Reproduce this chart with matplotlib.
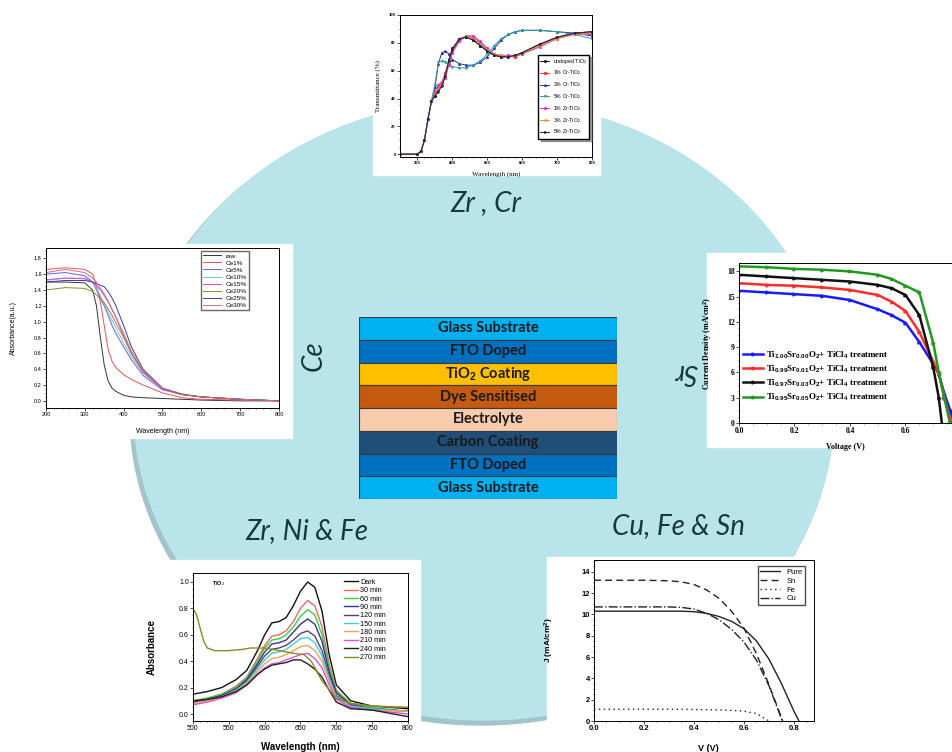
import matplotlib
matplotlib.use("Agg")
import matplotlib.pyplot as plt
from matplotlib.patches import Ellipse, Rectangle

W, H = 953, 752

plt.rcParams['mathtext.fontset'] = 'custom'
plt.rcParams['mathtext.rm'] = 'Liberation Sans'
plt.rcParams['mathtext.it'] = 'Liberation Sans:italic'
plt.rcParams['mathtext.bf'] = 'Liberation Sans:bold'

# central cell stack
layers = ["Glass Substrate", "FTO Doped", r"TiO$_\mathbf{2}$ Coating", "Dye Sensitised",
          "Electrolyte", "Carbon Coating", "FTO Doped", "Glass Substrate"]
layer_colors = ["#00b0f0", "#0070c0", "#ffc000", "#c55a11",
                "#f8cbad", "#1f4e79", "#0070c0", "#00b0f0"]

# Zr, Cr transmittance
wl1 = [250, 300, 310, 320, 330, 340, 350, 360, 370, 380, 390, 400, 420, 440, 460,
       480, 500, 520, 540, 560, 580, 600, 650, 700, 750, 800]
t_undoped = [0, 0, 2, 10, 25, 38, 42, 46, 50, 58, 68, 76, 83, 84, 82, 78, 74, 71, 70, 70, 71, 73, 79, 84, 87, 88]
t_cr1 = [0, 0, 2, 10, 25, 38, 43, 48, 52, 58, 66, 74, 82, 85, 84, 80, 75, 72, 70, 70, 70, 72, 78, 84, 87, 87]
t_cr3 = [0, 0, 2, 10, 25, 38, 48, 65, 73, 74, 72, 68, 65, 64, 64, 66, 70, 76, 82, 86, 88, 89, 89, 88, 87, 85]
t_cr5 = [0, 0, 2, 10, 25, 38, 50, 66, 67, 66, 64, 63, 62, 62, 64, 67, 72, 78, 83, 86, 88, 89, 89, 88, 86, 83]
t_zr1 = [0, 0, 2, 10, 25, 38, 45, 50, 52, 55, 64, 73, 81, 85, 85, 81, 76, 72, 71, 71, 71, 72, 77, 83, 86, 86]
t_zr3 = [0, 0, 2, 10, 25, 38, 43, 47, 50, 56, 66, 75, 83, 85, 83, 79, 75, 72, 71, 70, 71, 72, 78, 83, 86, 87]
t_zr5 = [0, 0, 2, 10, 25, 38, 42, 45, 49, 56, 67, 75, 83, 84, 82, 78, 74, 71, 70, 70, 71, 73, 79, 84, 87, 88]
t_labels = [r"undoped TiO$_2$", r"1% Cr-TiO$_2$", r"3% Cr-TiO$_2$", r"5% Cr-TiO$_2$",
            r"1% Zr-TiO$_2$", r"3% Zr-TiO$_2$", r"5% Zr-TiO$_2$"]
t_colors = ["#111111", "#ff3030", "#2a2aa8", "#2aa0a0", "#e030e0", "#d0a020", "#202050"]

# Ce absorbance
wl2 = [200, 250, 300, 320, 330, 340, 350, 360, 370, 380, 400, 420, 450, 500, 550, 600, 700, 800]
a_raw = [1.50, 1.50, 1.49, 1.40, 1.20, 0.80, 0.45, 0.25, 0.16, 0.12, 0.07, 0.05, 0.04, 0.03, 0.02, 0.01, 0.0, 0.0]
a_ce1 = [1.66, 1.68, 1.66, 1.60, 1.45, 1.25, 0.95, 0.65, 0.50, 0.42, 0.33, 0.27, 0.20, 0.10, 0.04, 0.02, 0.01, 0.0]
a_ce5 = [1.60, 1.62, 1.58, 1.50, 1.40, 1.30, 1.20, 1.08, 0.95, 0.85, 0.68, 0.52, 0.32, 0.14, 0.08, 0.05, 0.02, 0.0]
a_ce10 = [1.52, 1.55, 1.55, 1.50, 1.42, 1.33, 1.22, 1.12, 1.02, 0.92, 0.73, 0.56, 0.35, 0.15, 0.08, 0.05, 0.02, 0.0]
a_ce15 = [1.53, 1.55, 1.54, 1.50, 1.45, 1.40, 1.33, 1.25, 1.15, 1.05, 0.82, 0.60, 0.36, 0.15, 0.08, 0.05, 0.02, 0.0]
a_ce20 = [1.40, 1.43, 1.42, 1.38, 1.34, 1.29, 1.24, 1.16, 1.08, 0.98, 0.80, 0.60, 0.37, 0.16, 0.09, 0.05, 0.02, 0.0]
a_ce25 = [1.50, 1.52, 1.52, 1.50, 1.48, 1.46, 1.44, 1.38, 1.30, 1.20, 0.95, 0.68, 0.40, 0.16, 0.08, 0.05, 0.02, 0.0]
a_ce30 = [1.62, 1.66, 1.62, 1.55, 1.50, 1.42, 1.35, 1.26, 1.16, 1.06, 0.85, 0.63, 0.38, 0.16, 0.08, 0.05, 0.02, 0.0]
ce_labels = ["raw", "Ce1%", "Ce5%", "Ce10%", "Ce15%", "Ce20%", "Ce25%", "Ce30%"]
ce_colors = ["#333333", "#f05050", "#6060f0", "#70c8e0", "#e040e0", "#8a8a30", "#3a3a9a", "#d07080"]

# Sr J-V
v3 = [0, 0.1, 0.2, 0.3, 0.4, 0.5, 0.55, 0.6, 0.65, 0.7, 0.72, 0.74, 0.76, 0.78]
j_sr00 = [15.7, 15.5, 15.3, 15.1, 14.6, 13.5, 12.8, 11.9, 9.6, 7.0, 5.8, 3.5, 1.6, -0.4]
j_sr01 = [16.6, 16.4, 16.3, 16.1, 15.8, 15.2, 14.4, 13.3, 10.8, 7.3, 5.8, 3.0, 0.6, -1.5]
j_sr03 = [17.6, 17.4, 17.2, 17.0, 16.8, 16.4, 16.0, 15.2, 12.8, 6.6, 3.0, -2.5, -5.0, -7.0]
j_sr05 = [18.6, 18.5, 18.3, 18.2, 18.0, 17.6, 17.1, 16.3, 15.5, 9.5, 6.0, 3.0, 0.0, -2.0]
sr_labels = [r"Ti$_{\mathbf{1.00}}$Sr$_{\mathbf{0.00}}$O$_\mathbf{2}$+ TiCl$_\mathbf{4}$ treatment",
             r"Ti$_{\mathbf{0.99}}$Sr$_{\mathbf{0.01}}$O$_\mathbf{2}$+ TiCl$_\mathbf{4}$ treatment",
             r"Ti$_{\mathbf{0.97}}$Sr$_{\mathbf{0.03}}$O$_\mathbf{2}$+ TiCl$_\mathbf{4}$ treatment",
             r"Ti$_{\mathbf{0.95}}$Sr$_{\mathbf{0.05}}$O$_\mathbf{2}$+ TiCl$_\mathbf{4}$ treatment"]
sr_colors = ["#1a1aff", "#ff2a2a", "#111111", "#1f9a1f"]

# Zr, Ni & Fe photodegradation
wl4 = [500, 520, 540, 560, 575, 590, 600, 610, 620, 630, 640, 650, 660, 670, 680, 690, 700, 720, 750, 800]
ab_dark = [0.15, 0.17, 0.20, 0.26, 0.33, 0.48, 0.60, 0.69, 0.70, 0.73, 0.82, 0.93, 1.00, 0.96, 0.78, 0.45, 0.22, 0.10, 0.06, 0.04]
ab_30 = [0.10, 0.12, 0.15, 0.21, 0.28, 0.42, 0.52, 0.59, 0.60, 0.63, 0.70, 0.80, 0.86, 0.82, 0.66, 0.38, 0.18, 0.08, 0.06, 0.05]
ab_60 = [0.10, 0.12, 0.15, 0.20, 0.27, 0.40, 0.50, 0.56, 0.57, 0.60, 0.66, 0.74, 0.79, 0.75, 0.60, 0.35, 0.17, 0.08, 0.05, 0.02]
ab_90 = [0.09, 0.11, 0.14, 0.19, 0.26, 0.38, 0.47, 0.53, 0.54, 0.56, 0.62, 0.68, 0.72, 0.68, 0.55, 0.32, 0.16, 0.07, 0.04, 0.02]
ab_120 = [0.09, 0.11, 0.14, 0.19, 0.25, 0.36, 0.44, 0.49, 0.50, 0.52, 0.56, 0.61, 0.63, 0.59, 0.48, 0.29, 0.14, 0.06, 0.04, 0.02]
ab_150 = [0.08, 0.10, 0.13, 0.18, 0.24, 0.34, 0.41, 0.46, 0.47, 0.49, 0.53, 0.57, 0.58, 0.54, 0.44, 0.27, 0.13, 0.06, 0.04, 0.02]
ab_180 = [0.08, 0.10, 0.13, 0.17, 0.23, 0.32, 0.38, 0.42, 0.43, 0.45, 0.48, 0.51, 0.52, 0.48, 0.40, 0.25, 0.12, 0.05, 0.03, 0.02]
ab_210 = [0.07, 0.09, 0.12, 0.16, 0.22, 0.30, 0.35, 0.38, 0.39, 0.41, 0.43, 0.45, 0.46, 0.42, 0.35, 0.22, 0.11, 0.05, 0.03, 0.0]
ab_240 = [0.10, 0.11, 0.13, 0.17, 0.22, 0.30, 0.34, 0.37, 0.38, 0.39, 0.41, 0.41, 0.38, 0.34, 0.28, 0.18, 0.09, 0.04, 0.03, -0.02]
wl4_270 = [500, 505, 510, 515, 520, 530, 550, 570, 580, 600, 620, 640, 655, 665, 680, 700, 720, 750, 800]
ab_270 = [0.80, 0.75, 0.65, 0.55, 0.50, 0.48, 0.48, 0.49, 0.50, 0.50, 0.48, 0.46, 0.45, 0.40, 0.25, 0.12, 0.08, 0.06, 0.05]
deg_labels = ["Dark", "30 min", "60 min", "90 min", "120 min", "150 min",
              "180 min", "210 min", "240 min", "270 min"]
deg_colors = ["#111111", "#e86a6a", "#33d633", "#33339a", "#5a4070", "#40d0d8",
              "#e8a850", "#e050e0", "#202020", "#8a8a20"]

# Cu, Fe & Sn J-V
v5 = [0, 0.1, 0.2, 0.3, 0.35, 0.4, 0.45, 0.5, 0.55, 0.6, 0.65, 0.7, 0.75, 0.8, 0.82, 0.84]
j_pure = [10.3, 10.3, 10.3, 10.3, 10.3, 10.25, 10.1, 9.8, 9.35, 8.65, 7.5, 5.8, 3.5, 0.9, 0.0, -1.0]
j_sn = [13.2, 13.2, 13.2, 13.15, 13.05, 12.8, 12.3, 11.5, 10.3, 8.7, 6.3, 3.4, 0.3, -3.0, -4.0, -5.0]
j_fe = [1.1, 1.1, 1.1, 1.1, 1.1, 1.08, 1.06, 1.04, 1.0, 0.92, 0.7, 0.0, -0.5, -1.0, -1.0, -1.0]
j_cu = [10.7, 10.7, 10.7, 10.7, 10.65, 10.5, 10.1, 9.5, 8.6, 7.4, 5.7, 3.3, 0.2, -3.0, -4.0, -5.0]
cell_labels = ["Pure", "Sn", "Fe", "Cu"]
cell_styles = ["-", (0, (5, 3)), (0, (1, 2.5)), "-."]

fig = plt.figure(figsize=(W / 100, H / 100), dpi=100)
bg = fig.add_axes([0, 0, 1, 1])
bg.set_xlim(0, W)
bg.set_ylim(H, 0)
bg.axis('off')

# soft rim shadow then the disc
bg.add_patch(Ellipse((481, 414), 702, 622, color="#a3c4c8", zorder=1))
bg.add_patch(Ellipse((484, 410), 700, 620, color="#b9e4ea", zorder=1))

# white boxes behind the small plots
for x0, y0, x1, y1 in [(373, 8, 600, 175), (0, 244, 292, 438), (707, 253, 953, 447),
                       (147, 560, 420, 752), (547, 557, 835, 752)]:
    bg.add_patch(Rectangle((x0, y0), x1 - x0, y1 - y0, color="white", zorder=2))

lab_kw = dict(family="Lato", style="italic", fontsize=20, color="#17393b",
              ha="center", va="center", zorder=3)
bg.text(486, 203, "Zr , Cr", **lab_kw)
bg.text(314, 356, "Ce", rotation=90, **lab_kw)
bg.text(686, 372, "Sr", rotation=180, **lab_kw)
bg.text(307, 531, "Zr, Ni & Fe", **lab_kw)
bg.text(679, 526, "Cu, Fe & Sn", **lab_kw)


def px_axes(x0, y0, x1, y1):
    return fig.add_axes([x0 / W, 1 - y1 / H, (x1 - x0) / W, (y1 - y0) / H])


def style(ax, fs, family, weight="normal"):
    ax.minorticks_on()
    ax.tick_params(which="major", direction="out", length=2, width=0.5, labelsize=fs, pad=1)
    ax.tick_params(which="minor", direction="out", length=1, width=0.4)
    for s in ax.spines.values():
        s.set_linewidth(0.7)
    for lab in ax.get_xticklabels() + ax.get_yticklabels():
        lab.set_family(family)
        lab.set_weight(weight)


# stack
ax = px_axes(359, 317, 617, 499)
ypos = list(range(len(layers)))
ax.barh(ypos, [1] * len(layers), height=1, left=0, color=layer_colors,
        edgecolor="#3a3a3a", linewidth=0.8)
for i, name in enumerate(layers):
    ax.text(0.5, i, name, ha="center", va="center", family="Lato",
            weight="bold", fontsize=10.5, color="#1a1a1a")
ax.set_xlim(0, 1)
ax.set_ylim(len(layers) - 0.5, -0.5)
ax.axis("off")

# Zr, Cr
ax = px_axes(400, 15, 592, 157)
for ys, lab, c, m in zip([t_undoped, t_cr1, t_cr3, t_cr5, t_zr1, t_zr3, t_zr5],
                         t_labels, t_colors, ["o", "s", "^", "v", "D", "<", ">"]):
    ax.plot(wl1, ys, color=c, lw=0.7, marker=m, ms=1.2, label=lab)
ax.set_xlim(250, 800)
ax.set_ylim(-2, 100)
ax.set_xticks([300, 400, 500, 600, 700, 800])
ax.set_yticks([0, 20, 40, 60, 80, 100])
style(ax, 3, "Liberation Sans", "bold")
ax.set_xlabel("Wavelength (nm)", family="Liberation Serif", fontsize=5)
ax.set_ylabel("Transmittance (%)", family="Liberation Serif", fontsize=5)
ax.xaxis.set_label_coords(0.5, -0.1)
ax.yaxis.set_label_coords(-0.1, 0.5)
ax.legend(loc="upper right", bbox_to_anchor=(1.0, 0.74), frameon=True,
          shadow=True, fancybox=False, handlelength=1.6, borderpad=0.4,
          labelspacing=0.55, edgecolor="black", prop={"family": "Liberation Sans", "size": 3.8})

# Ce
ax = px_axes(46, 248, 279, 408)
for ys, lab, c in zip([a_raw, a_ce1, a_ce5, a_ce10, a_ce15, a_ce20, a_ce25, a_ce30],
                      ce_labels, ce_colors):
    ax.plot(wl2, ys, color=c, lw=0.7, label=lab)
ax.set_xlim(200, 800)
ax.set_ylim(-0.09, 1.93)
ax.set_yticks([0.0, 0.2, 0.4, 0.6, 0.8, 1.0, 1.2, 1.4, 1.6, 1.8])
style(ax, 4, "Liberation Sans")
ax.set_xlabel("Wavelength (nm)", family="Liberation Sans", fontsize=5)
ax.set_ylabel("Absorbance(a.u.)", family="Liberation Sans", fontsize=5)
ax.xaxis.set_label_coords(0.5, -0.125)
ax.yaxis.set_label_coords(-0.125, 0.5)
ax.legend(loc="upper right", bbox_to_anchor=(0.885, 1.0), frameon=True, fancybox=False,
          edgecolor="#444444", handlelength=2.8, borderpad=0.3, labelspacing=0.25,
          prop={"family": "Liberation Sans", "size": 4.6})

# Sr
ax = px_axes(739, 263, 961, 423)
for ys, lab, c in zip([j_sr00, j_sr01, j_sr03, j_sr05], sr_labels, sr_colors):
    ax.plot(v3, ys, color=c, lw=1.8, marker=">", ms=2.2, label=lab)
ax.set_xlim(0, 0.8)
ax.set_ylim(0, 19)
ax.set_xticks([0.0, 0.2, 0.4, 0.6, 0.8])
ax.set_xticklabels(["0.0", "0.2", "0.4", "0.6", "0.8"])
ax.set_yticks([0, 3, 6, 9, 12, 15, 18])
style(ax, 5.5, "Liberation Serif", "bold")
ax.set_xlabel("Voltage (V)", family="Liberation Serif", weight="bold", fontsize=5.8)
ax.set_ylabel(r"Current Density (mA/cm$^\mathbf{2}$)", family="Liberation Serif",
              weight="bold", fontsize=5.8)
ax.xaxis.set_label_coords(0.477, -0.125)
ax.yaxis.set_label_coords(-0.108, 0.5)
ax.legend(loc="upper left", bbox_to_anchor=(-0.01, 0.5), frameon=False, handlelength=2.2,
          labelspacing=0.3, borderpad=0.2, handletextpad=0.4,
          prop={"family": "Liberation Serif", "weight": "bold", "size": 6.4})

# Zr, Ni & Fe
ax = px_axes(193, 573, 408, 721)
for ys, lab, c in zip([ab_dark, ab_30, ab_60, ab_90, ab_120, ab_150, ab_180, ab_210, ab_240],
                      deg_labels, deg_colors):
    ax.plot(wl4, ys, color=c, lw=1.0, label=lab)
ax.plot(wl4_270, ab_270, color=deg_colors[-1], lw=1.0, label=deg_labels[-1])
ax.set_xlim(500, 800)
ax.set_ylim(-0.053, 1.068)
ax.set_xticks([500, 550, 600, 650, 700, 750, 800])
ax.set_yticks([0.0, 0.2, 0.4, 0.6, 0.8, 1.0])
style(ax, 5, "Liberation Sans")
ax.text(0.09, 0.93, r"TiO$_2$", transform=ax.transAxes, family="Liberation Sans",
        weight="bold", fontsize=4, va="center")
ax.set_xlabel("Wavelength (nm)", family="Liberation Sans", weight="bold", fontsize=7)
ax.set_ylabel("Absorbance", family="Liberation Sans", weight="bold", fontsize=7)
ax.xaxis.set_label_coords(0.5, -0.145)
ax.yaxis.set_label_coords(-0.167, 0.5)
ax.legend(loc="upper left", bbox_to_anchor=(0.68, 0.99), frameon=False, handlelength=2.0,
          labelspacing=0.18, borderpad=0.1, handletextpad=0.3,
          prop={"family": "Liberation Sans", "size": 5.2})

# Cu, Fe & Sn
ax = px_axes(594, 560, 814, 721)
for ys, lab, ls in zip([j_pure, j_sn, j_fe, j_cu], cell_labels, cell_styles):
    ax.plot(v5, ys, color="#222222", lw=1.0, linestyle=ls, label=lab)
ax.set_xlim(0, 0.88)
ax.set_ylim(0, 15.1)
ax.set_xticks([0.0, 0.2, 0.4, 0.6, 0.8])
ax.set_xticklabels(["0.0", "0.2", "0.4", "0.6", "0.8"])
ax.set_yticks([0, 2, 4, 6, 8, 10, 12, 14])
style(ax, 5.5, "Liberation Sans", "bold")
ax.set_xlabel("V (V)", family="Liberation Sans", weight="bold", fontsize=6.5)
ax.set_ylabel(r"J (mA/cm$^\mathbf{2}$)", family="Liberation Sans", weight="bold", fontsize=6)
ax.xaxis.set_label_coords(0.52, -0.145)
ax.yaxis.set_label_coords(-0.173, 0.5)
ax.legend(loc="upper right", bbox_to_anchor=(0.975, 0.985), frameon=True, fancybox=False,
          edgecolor="#222222", handlelength=2.6, labelspacing=0.2, borderpad=0.3,
          prop={"family": "Liberation Sans", "size": 5.5})

fig.savefig("out.png", dpi=100)
